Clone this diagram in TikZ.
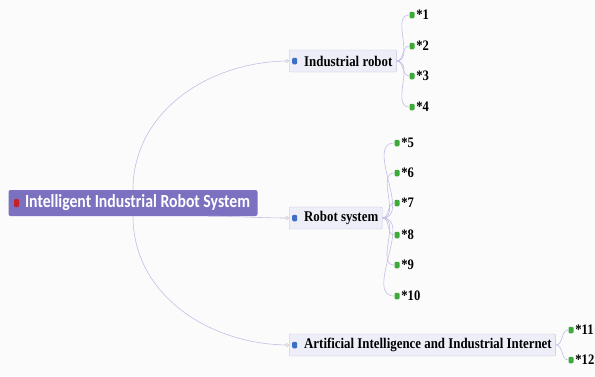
\documentclass[tikz,border=0pt]{standalone}
\usepackage{fontspec}
\setmainfont{Liberation Serif}[FakeStretch=0.87]
\newfontfamily\rootfont{Carlito}[FakeStretch=0.85]
\usetikzlibrary{positioning}
\definecolor{MapRoot}{HTML}{7B71C0}
\definecolor{MapBox}{HTML}{EEEEF8}
\definecolor{MapEdge}{HTML}{C6C3E6}
\definecolor{MapLink}{HTML}{C2BFE6}
\definecolor{MapRed}{HTML}{C8202A}
\definecolor{MapBlue}{HTML}{3A6FC4}
\definecolor{MapGreen}{HTML}{3DAA3A}
\definecolor{MapPaper}{HTML}{FBFBFB}

\begin{document}
\begin{tikzpicture}[x=1pt, y=-1pt, node distance=1.5pt,
  rootbox/.style={fill=MapRoot, rounded corners=2pt, text=white,
    minimum height=26pt, inner xsep=4pt,
    font=\rootfont\bfseries\fontsize{18.5}{20}\selectfont},
  topic/.style={draw=MapEdge, fill=MapBox, rounded corners=1pt,
    minimum height=22pt, inner xsep=4pt, anchor=west,
    font=\bfseries\fontsize{14.8}{16}\selectfont},
  leaf/.style={inner sep=0pt, font=\bfseries\fontsize{14.5}{16}\selectfont},
  ico/.style={rounded corners=1.2pt, minimum width=5pt, minimum height=6.5pt, inner sep=0pt},
  knob/.style={circle, draw=gray!45, fill=white, inner sep=0pt, minimum size=3pt},
  link/.style={draw=MapLink, line width=0.6pt}]
  \fill[MapPaper] (0,0) rectangle (595,376);
  \useasboundingbox (0,0) rectangle (595,376);

  % central topic
  \node[rootbox, minimum width=249pt] (root) at (133,203)
    {\hspace*{9pt}Intelligent Industrial Robot System};
  \node[ico, fill=MapRed, minimum height=8pt, right=5.5pt of root.west] (rico) {};

  % main branches
  \node[topic] (ir) at (289,61) {\hspace*{11pt}Industrial robot};
  \node[topic] (rs) at (289,218) {\hspace*{11pt}Robot system};
  \node[topic] (ai) at (289,345) {\hspace*{11pt}Artificial Intelligence and Industrial Internet};
  \foreach \b in {ir,rs,ai}
    \node[ico, fill=MapBlue, right=3pt of \b.west] (\b ico) {};

  \draw[link] (root.north) to[out=90,in=180] (ir.west);
  \draw[link] ([xshift=-50pt]root.south east) to[out=0,in=180] (rs.west);
  \draw[link] (root.south) to[out=-90,in=180] (ai.west);
  \foreach \b in {ir,rs,ai}
    \node[knob] at ([xshift=-2pt]\b.west) {};

  % subtopics
  \foreach \n/\y in {1/15,2/46,3/76,4/107} {
    \node[ico, fill=MapGreen] (d\n) at (412,\y) {};
    \node[leaf, right=of d\n] (l\n) {*\n};
    \draw[link] (ir.east) to[out=0,in=180] (d\n.west);
  }
  \foreach \n/\y in {5/143,6/173,7/203,8/235,9/265,10/296} {
    \node[ico, fill=MapGreen] (d\n) at (397,\y) {};
    \node[leaf, right=of d\n] (l\n) {*\n};
    \draw[link] (rs.east) to[out=0,in=180] (d\n.west);
  }
  \foreach \n/\y in {11/330,12/360} {
    \node[ico, fill=MapGreen] (d\n) at (571,\y) {};
    \node[leaf, right=of d\n] (l\n) {*\n};
    \draw[link] (ai.east) to[out=0,in=180] (d\n.west);
  }
\end{tikzpicture}
\end{document}
